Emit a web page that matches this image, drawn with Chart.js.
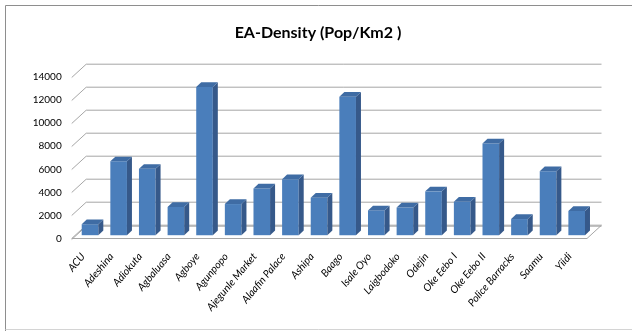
<!DOCTYPE html>
<html>
<head>
<meta charset="utf-8">
<script src="https://cdn.jsdelivr.net/npm/chart.js@4.4.0/dist/chart.umd.min.js"></script>
<style>
html,body{margin:0;padding:0;background:#fff;}
canvas{display:block;}
</style>
</head>
<body>
<canvas id="c" width="632" height="331"></canvas>
<script>
const categories = ["ACU","Adeshina","Adiokuta","Agbaluasa","Agboye","Agunpopo","Ajegunle Market","Alaafin Palace","Ashipa","Baago","Isale Oyo","Laigbodoko","Odejin","Oke Eebo I","Oke Eebo II","Police Barracks","Saamu","Yiidi"];
const density = [950,6400,5750,2450,12850,2700,4050,4850,3250,12000,2150,2400,3800,2900,7950,1400,5550,2100];
const yTicks = [0,2000,4000,6000,8000,10000,12000,14000];
const chartTitle = "EA-Density (Pop/Km2 )";

const WALL_DX = 14.5, WALL_DY = -13.3;   // back wall offset
const BAR_DX = 4, BAR_DY = -3.3;         // bar depth position
const DEPTH_DX = 5, DEPTH_DY = -4.7;     // bar thickness

const threeD = {
  id: 'threeD',
  beforeDraw(chart) {
    const ctx = chart.ctx;
    ctx.save();
    ctx.lineWidth = 1;
    ctx.strokeStyle = '#8e8e8e';
    ctx.beginPath();
    ctx.moveTo(5.5, 331); ctx.lineTo(5.5, 5.5); ctx.lineTo(632, 5.5);
    ctx.stroke();
    ctx.strokeStyle = '#d4d4d4';
    ctx.beginPath();
    ctx.moveTo(5.5, 329.5); ctx.lineTo(632, 329.5);
    ctx.stroke();
    // title
    ctx.fillStyle = '#000';
    ctx.font = 'bold 16px Lato';
    ctx.textAlign = 'center';
    ctx.textBaseline = 'middle';
    ctx.fillText(chartTitle, 318, 33);
    ctx.restore();
  },
  beforeDatasetsDraw(chart) {
    const ctx = chart.ctx, y = chart.scales.y, a = chart.chartArea;
    const L = a.left, R = a.right;
    ctx.save();
    ctx.lineWidth = 1;
    ctx.strokeStyle = '#a6a6a6';
    const y0 = y.getPixelForValue(0);
    ctx.beginPath();
    ctx.moveTo(L, y0); ctx.lineTo(R, y0); ctx.lineTo(R + WALL_DX, y0 + WALL_DY); ctx.lineTo(L + WALL_DX, y0 + WALL_DY); ctx.closePath();
    ctx.fillStyle = '#ffffff';
    ctx.fill();
    ctx.stroke();
    yTicks.forEach(v => {
      const p = Math.round(y.getPixelForValue(v)) + 0.5;
      ctx.beginPath();
      ctx.moveTo(L, p);
      ctx.lineTo(L + WALL_DX, p + WALL_DY);
      ctx.lineTo(R + WALL_DX, p + WALL_DY);
      ctx.stroke();
    });
    ctx.restore();
    ctx.save();
    ctx.translate(BAR_DX, BAR_DY);
  },
  afterDatasetsDraw(chart) {
    const ctx = chart.ctx;
    const meta = chart.getDatasetMeta(0);
    meta.data.forEach(bar => {
      const {x, y, base, width} = bar.getProps(['x','y','base','width'], true);
      const l = x - width / 2, r = x + width / 2;
      ctx.beginPath();
      ctx.moveTo(r, base); ctx.lineTo(r, y); ctx.lineTo(r + DEPTH_DX, y + DEPTH_DY); ctx.lineTo(r + DEPTH_DX, base + DEPTH_DY); ctx.closePath();
      ctx.fillStyle = '#36598a';
      ctx.fill();
      ctx.beginPath();
      ctx.moveTo(l, y); ctx.lineTo(r, y); ctx.lineTo(r + DEPTH_DX, y + DEPTH_DY); ctx.lineTo(l + DEPTH_DX, y + DEPTH_DY); ctx.closePath();
      ctx.fillStyle = '#3f6ca4';
      ctx.fill();
    });
    ctx.restore();
  }
};

new Chart(document.getElementById('c'), {
  type: 'bar',
  data: {
    labels: categories,
    datasets: [{
      data: density,
      backgroundColor: '#4a7ebb',
      borderWidth: 0,
      barPercentage: 0.58,
      categoryPercentage: 1,
      clip: false
    }]
  },
  options: {
    responsive: false,
    animation: false,
    events: [],
    layout: { padding: { left: 0, right: 45, top: 77, bottom: 0 } },
    plugins: {
      legend: { display: false },
      tooltip: { enabled: false },
      title: { display: false }
    },
    scales: {
      x: {
        grid: { display: false, drawTicks: false },
        border: { display: false },
        ticks: {
          autoSkip: false,
          minRotation: 50,
          maxRotation: 50,
          padding: 12,
          labelOffset: -3,
          color: '#000',
          font: { family: 'Lato', style: 'italic', size: 10.5 }
        },
        afterFit(s) { s.height = 92.5; s.paddingLeft = 0; s.paddingRight = 0; }
      },
      y: {
        min: 0,
        max: 14000,
        grid: { display: false, drawTicks: false },
        border: { display: false },
        afterBuildTicks(s) { s.ticks = yTicks.map(v => ({ value: v })); },
        ticks: {
          padding: 10,
          color: '#000',
          font: { family: 'Lato', size: 10 },
          callback: v => String(v)
        },
        afterFit(s) { s.width = 71.7; s.paddingTop = 0; s.paddingBottom = 0; }
      }
    }
  },
  plugins: [threeD]
});
</script>
</body>
</html>
